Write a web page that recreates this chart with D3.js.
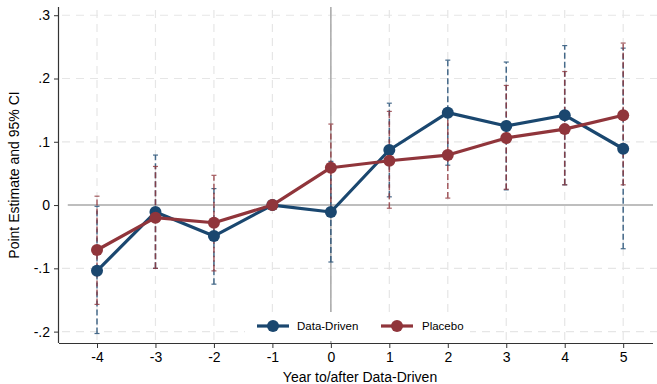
<!DOCTYPE html>
<html>
<head>
<meta charset="utf-8">
<script src="https://cdn.jsdelivr.net/npm/d3@7"></script>
<style>
  html, body { margin: 0; padding: 0; background: #fff; }
  svg { display: block; font-family: "Liberation Sans", Arial, Helvetica, sans-serif; }
</style>
</head>
<body>
<svg id="chart" width="657" height="384"></svg>
<script>
const years = [-4, -3, -2, -1, 0, 1, 2, 3, 4, 5];
const yearLabels = ["-4", "-3", "-2", "-1", "0", "1", "2", "3", "4", "5"];
const dataDriven = [-0.104, -0.011, -0.049, 0, -0.011, 0.087, 0.146, 0.125, 0.142, 0.089];
const dataDrivenLower = [-0.203, -0.100, -0.125, 0, -0.090, 0.013, 0.063, 0.024, 0.032, -0.069];
const dataDrivenUpper = [-0.002, 0.079, 0.026, 0, 0.069, 0.161, 0.229, 0.226, 0.252, 0.248];
const placebo = [-0.071, -0.020, -0.028, 0, 0.059, 0.070, 0.079, 0.106, 0.120, 0.142];
const placeboLower = [-0.157, -0.100, -0.104, 0, -0.010, -0.005, 0.011, 0.025, 0.032, 0.032];
const placeboUpper = [0.014, 0.061, 0.047, 0, 0.128, 0.148, 0.149, 0.189, 0.211, 0.256];
const yTicks = [-0.2, -0.1, 0, 0.1, 0.2, 0.3];
const yTickLabels = ["-.2", "-.1", "0", ".1", ".2", ".3"];
const seriesNames = ["Data-Driven", "Placebo"];
const colors = ["#1a476f", "#90353b"];

(function () {
const svg = d3.select("#chart");
const pL = 59, pR = 653, pT = 7, pB = 343;
const x = d3.scaleLinear().domain([-4.65, 5.51]).range([pL, pR]);
const y = d3.scaleLinear().domain([-0.218, 0.313]).range([pB, pT]);

// gridlines
const grid = svg.append("g");
grid.selectAll("line.gy").data(yTicks.filter(v => v !== 0)).join("line")
  .attr("x1", pL + 3).attr("x2", pR + 4)
  .attr("y1", d => y(d)).attr("y2", d => y(d))
  .attr("stroke", "#e6e6e6").attr("stroke-width", 1.2).attr("stroke-dasharray", "8,6");
grid.selectAll("line.gx").data(years).join("line")
  .attr("x1", d => x(d)).attr("x2", d => x(d))
  .attr("y1", pT + 3).attr("y2", pB)
  .attr("stroke", "#e6e6e6").attr("stroke-width", 1.2).attr("stroke-dasharray", "8,6");

// reference lines
svg.append("line").attr("x1", x(-4.5)).attr("x2", pR).attr("y1", y(0)).attr("y2", y(0))
  .attr("stroke", "#a8a8a8").attr("stroke-width", 1.5);
svg.append("line").attr("x1", x(0)).attr("x2", x(0)).attr("y1", pT).attr("y2", pB)
  .attr("stroke", "#a8a8a8").attr("stroke-width", 1.5);

// series
const series = [
  {name: seriesNames[0], v: dataDriven, lo: dataDrivenLower, hi: dataDrivenUpper, color: colors[0]},
  {name: seriesNames[1], v: placebo, lo: placeboLower, hi: placeboUpper, color: colors[1]}
];

series.forEach(s => {
  const ci = years.map((yr, i) => ({yr, lo: s.lo[i], hi: s.hi[i]})).filter(d => d.lo !== d.hi);
  const g = svg.append("g").attr("opacity", 0.8);
  g.selectAll("line.ci").data(ci).join("line")
    .attr("x1", d => x(d.yr)).attr("x2", d => x(d.yr))
    .attr("y1", d => y(d.lo)).attr("y2", d => y(d.hi))
    .attr("stroke", s.color).attr("stroke-width", 1.5).attr("stroke-dasharray", "6,3");
  ["lo", "hi"].forEach(k => {
    g.append("g").selectAll("line").data(ci).join("line")
      .attr("x1", d => x(d.yr) - 2.5).attr("x2", d => x(d.yr) + 2.5)
      .attr("y1", d => y(d[k])).attr("y2", d => y(d[k]))
      .attr("stroke", s.color).attr("stroke-width", 1.2);
  });
});

series.forEach(s => {
  const pts = years.map((yr, i) => ({yr, v: s.v[i]}));
  svg.append("path").datum(pts)
    .attr("d", d3.line().x(d => x(d.yr)).y(d => y(d.v)))
    .attr("fill", "none").attr("stroke", s.color).attr("stroke-width", 3.2)
    .attr("stroke-linejoin", "round");
  svg.append("g").selectAll("circle").data(pts).join("circle")
    .attr("cx", d => x(d.yr)).attr("cy", d => y(d.v)).attr("r", 6)
    .attr("fill", s.color);
});

// legend
const lg = svg.append("g");
lg.append("rect").attr("x", 245).attr("y", 312).attr("width", 225).attr("height", 29).attr("fill", "#fff");
const legendItems = [{x0: 257, tx: 297}, {x0: 381, tx: 422}];
series.forEach((s, i) => {
  const it = legendItems[i];
  lg.append("line").attr("x1", it.x0).attr("x2", it.x0 + 32).attr("y1", 326).attr("y2", 326)
    .attr("stroke", s.color).attr("stroke-width", 3.2);
  lg.append("circle").attr("cx", it.x0 + 16).attr("cy", 326).attr("r", 6).attr("fill", s.color);
  lg.append("text").attr("x", it.tx).attr("y", 330).attr("font-size", 11.5).attr("fill", "#000").text(s.name);
});

// axes
const xAxis = d3.axisBottom(x).tickValues(years).tickSize(5).tickPadding(4)
  .tickFormat((d, i) => yearLabels[i]);
const gx = svg.append("g").attr("transform", `translate(0,${pB})`).call(xAxis);
gx.select(".domain").attr("d", `M${pL},0.5H${pR}`).attr("stroke", "#333").attr("stroke-width", 1.2);
gx.selectAll(".tick line").attr("stroke", "#333");
gx.selectAll(".tick text").attr("font-size", 14).attr("fill", "#000")
  .attr("font-family", "Liberation Sans, Arial, sans-serif");

const yAxis = d3.axisLeft(y).tickValues(yTicks).tickSize(5).tickPadding(4)
  .tickFormat((d, i) => yTickLabels[i]);
const gy = svg.append("g").attr("transform", `translate(${pL},0)`).call(yAxis);
gy.select(".domain").attr("d", `M-0.5,${pT}V${pB}`).attr("stroke", "#333").attr("stroke-width", 1.2);
gy.selectAll(".tick line").attr("stroke", "#333");
gy.selectAll(".tick text").attr("font-size", 14).attr("fill", "#000")
  .attr("font-family", "Liberation Sans, Arial, sans-serif");

// titles
svg.append("text").attr("x", 360).attr("y", 382).attr("text-anchor", "middle")
  .attr("font-size", 14).attr("fill", "#000").text("Year to/after Data-Driven");
svg.append("text").attr("transform", "translate(19,175) rotate(-90)").attr("text-anchor", "middle")
  .attr("font-size", 14).attr("fill", "#000").text("Point Estimate and 95% CI");
})();
</script>
</body>
</html>
